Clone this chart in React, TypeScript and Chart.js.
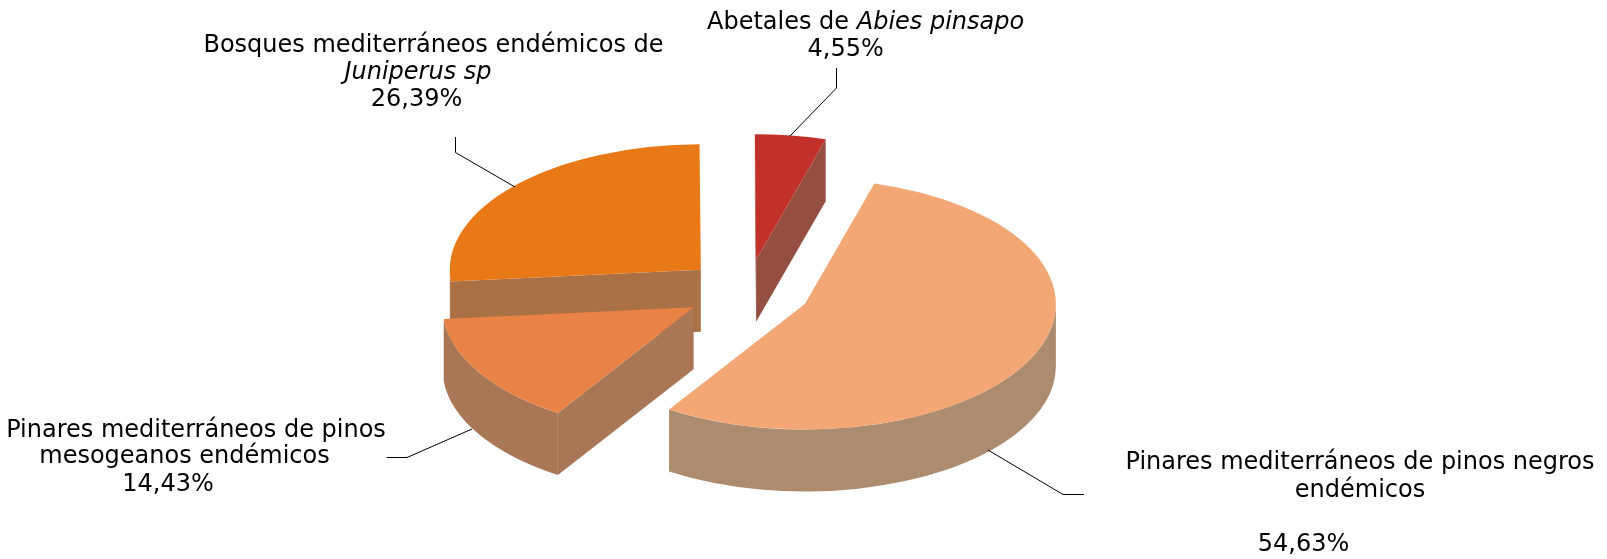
import React, { useEffect, useRef } from "react";
import { Chart, registerables } from "chart.js";

Chart.register(...registerables);

const categories = [
  "Bosques mediterráneos endémicos de Juniperus sp",
  "Abetales de Abies pinsapo",
  "Pinares mediterráneos de pinos negros endémicos",
  "Pinares mediterráneos de pinos mesogeanos endémicos",
];
const values = [26.39, 4.55, 54.63, 14.43];
const topColors = ["#e97817", "#c2302a", "#f3a775", "#e98245"];
const wallColors = ["#a97145", "#954f40", "#ad8b6e", "#a97756"];

const FONT = '"DejaVu Sans"';
const FONT_SIZE = 24;
const SQUASH = 0.5;
const DEPTH = 62;
const EXPLODE = 63;
const pct = (v: number) => v.toFixed(2).replace(".", ",") + "%";

type Seg = { t: string; i?: boolean };
type Line = { segs: Seg[]; cx: number; y: number };
const callouts: { lines: Line[]; leader: number[][] }[] = [
  {
    lines: [
      { segs: [{ t: "Bosques mediterráneos endémicos de" }], cx: 433.5, y: 52 },
      { segs: [{ t: "Juniperus sp", i: true }], cx: 418, y: 79 },
      { segs: [{ t: pct(values[0]) }], cx: 416.5, y: 106 },
    ],
    leader: [[455.5, 137], [455.5, 152.5], [515, 187]],
  },
  {
    lines: [
      { segs: [{ t: "Abetales de " }, { t: "Abies pinsapo", i: true }], cx: 865.6, y: 29 },
      { segs: [{ t: pct(values[1]) }], cx: 845.7, y: 56 },
    ],
    leader: [[836.5, 68], [836.5, 88], [790, 136]],
  },
  {
    lines: [
      { segs: [{ t: "Pinares mediterráneos de pinos negros" }], cx: 1360, y: 469 },
      { segs: [{ t: "endémicos" }], cx: 1360, y: 497 },
      { segs: [{ t: pct(values[2]) }], cx: 1303.5, y: 551 },
    ],
    leader: [[988, 450], [1063, 494.5], [1084, 494.5]],
  },
  {
    lines: [
      { segs: [{ t: "Pinares mediterráneos de pinos" }], cx: 196, y: 437 },
      { segs: [{ t: "mesogeanos endémicos" }], cx: 184.5, y: 463 },
      { segs: [{ t: pct(values[3]) }], cx: 168, y: 491 },
    ],
    leader: [[386.6, 457.5], [407, 457.5], [472, 429]],
  },
];

const pie3d = {
  id: "pie3d",
  beforeDatasetDraw(chart: any, args: any) {
    const ctx = chart.ctx;
    args.meta.data.forEach((arc: any, i: number) => {
      const R = arc.outerRadius;
      const a0 = arc.startAngle;
      const a1 = arc.endAngle;
      const mid = (a0 + a1) / 2;
      const dx = Math.cos(mid) * EXPLODE;
      const dy = Math.sin(mid) * EXPLODE * SQUASH;
      const cx = arc.x + dx;
      const cy = arc.y + dy;
      ctx.save();
      ctx.fillStyle = wallColors[i];
      const side = (a: number) => {
        ctx.beginPath();
        ctx.moveTo(cx, cy);
        ctx.lineTo(cx + Math.cos(a) * R, cy + Math.sin(a) * R * SQUASH);
        ctx.lineTo(cx + Math.cos(a) * R, cy + Math.sin(a) * R * SQUASH + DEPTH);
        ctx.lineTo(cx, cy + DEPTH);
        ctx.closePath();
        ctx.fill();
      };
      if (-Math.cos(a0) > 0) side(a0);
      if (Math.cos(a1) > 0) side(a1);
      // Curved outer wall: the part of the rim on the viewer's side
      const TAU = Math.PI * 2;
      for (let k = -1; k <= 1; k++) {
        const s = Math.max(a0, k * TAU);
        const e = Math.min(a1, k * TAU + Math.PI);
        if (e > s) {
          ctx.beginPath();
          ctx.ellipse(cx, cy, R, R * SQUASH, 0, s, e, false);
          ctx.ellipse(cx, cy + DEPTH, R, R * SQUASH, 0, e, s, true);
          ctx.closePath();
          ctx.fill();
        }
      }
      ctx.restore();
      // Slice top: the library's own arc element, moved out and flattened
      ctx.save();
      ctx.translate(dx, dy + arc.y);
      ctx.scale(1, SQUASH);
      ctx.translate(0, -arc.y);
      arc.draw(ctx);
      ctx.restore();
    });
    return false;
  },
  afterDatasetsDraw(chart: any) {
    const ctx = chart.ctx;
    ctx.save();
    ctx.textBaseline = "alphabetic";
    ctx.textAlign = "left";
    ctx.strokeStyle = "#000000";
    ctx.lineWidth = 1;
    ctx.fillStyle = "#000000";
    callouts.forEach((c) => {
      ctx.beginPath();
      c.leader.forEach(([x, y], n) => (n ? ctx.lineTo(x, y) : ctx.moveTo(x, y)));
      ctx.stroke();
      c.lines.forEach((l) => {
        const fontOf = (s: Seg) => `${s.i ? "italic " : ""}${FONT_SIZE}px ${FONT}`;
        let total = 0;
        l.segs.forEach((s) => {
          ctx.font = fontOf(s);
          total += ctx.measureText(s.t).width;
        });
        let x = l.cx - total / 2;
        l.segs.forEach((s) => {
          ctx.font = fontOf(s);
          ctx.fillText(s.t, x, l.y);
          x += ctx.measureText(s.t).width;
        });
      });
    });
    ctx.restore();
  },
};

export default function App() {
  const ref = useRef<HTMLCanvasElement>(null);
  useEffect(() => {
    document.body.style.margin = "0";
    const chart = new Chart(ref.current as HTMLCanvasElement, {
      type: "pie",
      data: {
        labels: categories,
        datasets: [
          {
            data: values,
            backgroundColor: topColors,
            borderWidth: 0,
            radius: 251,
            clip: false,
          } as any,
        ],
      },
      options: {
        responsive: false,
        animation: false,
        rotation: 264.7,
        layout: { padding: { right: 112, top: 23 } },
        plugins: { legend: { display: false }, tooltip: { enabled: false } },
      },
      plugins: [pie3d],
    } as any);
    return () => chart.destroy();
  }, []);
  return <canvas ref={ref} width={1607} height={559} style={{ display: "block" }} />;
}
